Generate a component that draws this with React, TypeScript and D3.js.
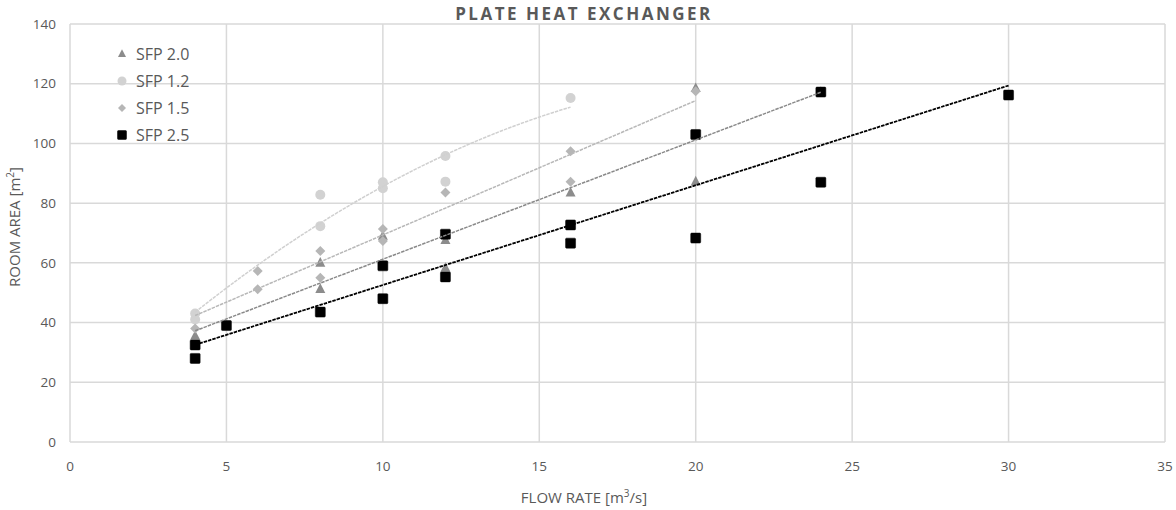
import React from "react";
import * as d3 from "d3";

// ---- data ----
const seriesNames = ["SFP 2.0", "SFP 1.2", "SFP 1.5", "SFP 2.5"];

const sfp20X = [4, 8, 8, 10, 12, 12, 16, 20, 20, 24];
const sfp20Y = [35.5, 60, 51.2, 69, 67.6, 58.3, 83.5, 118.5, 87.2, 117.2];

const sfp12X = [4, 4, 8, 8, 10, 10, 12, 12, 16];
const sfp12Y = [43, 41, 72.3, 82.8, 87, 85, 95.8, 87.2, 115.2];

const sfp15X = [4, 6, 6, 8, 8, 10, 10, 12, 16, 16, 20];
const sfp15Y = [38, 57.3, 51.2, 64, 55, 71.3, 67.3, 83.6, 97.4, 87.2, 117.5];

const sfp25X = [4, 4, 5, 8, 10, 10, 12, 12, 16, 16, 20, 20, 24, 24, 30];
const sfp25Y = [32.5, 28, 39, 43.5, 48, 59, 55.3, 69.6, 72.7, 66.6, 103, 68.3, 117.2, 87, 116.2];

const trendTypes = ["linear", "poly2", "linear", "linear"];

const xTicks = [0, 5, 10, 15, 20, 25, 30, 35];
const yTicks = [0, 20, 40, 60, 80, 100, 120, 140];

const titleText = "PLATE HEAT EXCHANGER";
const xTitle = "FLOW RATE [m";
const yTitle = "ROOM AREA [m";

// ---- styles ----
const W = 1176;
const H = 510;
const margin = { left: 70, right: 11, top: 24, bottom: 68 };
const markerFill = ["#8c8c8c", "#d2d2d2", "#b6b6b6", "#000000"];
const lineColor = ["#8a8a8a", "#d0d0d0", "#b8b8b8", "#000000"];
const shapes = ["triangle", "circle", "diamond", "square"];
const textColor = "#595959";
const font = "'Open Sans', 'DejaVu Sans', sans-serif";

function solve3(A: number[][], b: number[]): number[] {
  const M = A.map((r, i) => [...r, b[i]]);
  for (let i = 0; i < 3; i++) {
    let p = i;
    for (let k = i + 1; k < 3; k++) if (Math.abs(M[k][i]) > Math.abs(M[p][i])) p = k;
    [M[i], M[p]] = [M[p], M[i]];
    for (let k = i + 1; k < 3; k++) {
      const f = M[k][i] / M[i][i];
      for (let j = i; j < 4; j++) M[k][j] -= f * M[i][j];
    }
  }
  const x = [0, 0, 0];
  for (let i = 2; i >= 0; i--) {
    let s = M[i][3];
    for (let j = i + 1; j < 3; j++) s -= M[i][j] * x[j];
    x[i] = s / M[i][i];
  }
  return x;
}

function fit(xs: number[], ys: number[], type: string): (x: number) => number {
  const n = xs.length;
  if (type === "linear") {
    const mx = d3.mean(xs)!;
    const my = d3.mean(ys)!;
    let sxy = 0, sxx = 0;
    for (let i = 0; i < n; i++) {
      sxy += (xs[i] - mx) * (ys[i] - my);
      sxx += (xs[i] - mx) ** 2;
    }
    const b = sxy / sxx;
    const a = my - b * mx;
    return (x) => a + b * x;
  }
  const S = (p: number) => d3.sum(xs, (x) => x ** p);
  const T = (p: number) => d3.sum(xs.map((x, i) => x ** p * ys[i]));
  const A = [
    [n, S(1), S(2)],
    [S(1), S(2), S(3)],
    [S(2), S(3), S(4)],
  ];
  const c = solve3(A, [T(0), T(1), T(2)]);
  return (x) => c[0] + c[1] * x + c[2] * x * x;
}

function Marker({ shape, x, y, fill, s }: { shape: string; x: number; y: number; fill: string; s: number }) {
  if (shape === "square")
    return <rect x={x - s / 2} y={y - s / 2} width={s} height={s} fill={fill} stroke={fill} strokeWidth={0.5} rx={1} />;
  if (shape === "circle") return <circle cx={x} cy={y} r={s / 2} fill={fill} />;
  if (shape === "diamond")
    return <path d={`M${x},${y - s / 2}L${x + s / 2},${y}L${x},${y + s / 2}L${x - s / 2},${y}Z`} fill={fill} />;
  return (
    <path
      d={`M${x},${y - s * 0.58}L${x + s / 2},${y + s * 0.38}L${x - s / 2},${y + s * 0.38}Z`}
      fill={fill}
    />
  );
}

export default function App() {
  const xs = [sfp20X, sfp12X, sfp15X, sfp25X];
  const ys = [sfp20Y, sfp12Y, sfp15Y, sfp25Y];

  const x = d3.scaleLinear().domain([0, 35]).range([margin.left, W - margin.right]);
  const y = d3.scaleLinear().domain([0, 140]).range([H - margin.bottom, margin.top]);

  const trends = xs.map((xArr, i) => {
    const f = fit(xArr, ys[i], trendTypes[i]);
    const [lo, hi] = d3.extent(xArr) as [number, number];
    const pts = d3.range(0, 61).map((k) => lo + ((hi - lo) * k) / 60);
    const line = d3
      .line<number>()
      .x((v) => x(v))
      .y((v) => y(f(v)));
    return line(pts) || "";
  });

  const markerSize = [10, 10, 10, 10];
  const legendSize = [8, 9, 8, 9];

  return (
    <svg width={W} height={H} style={{ position: "absolute", left: 0, top: 0, background: "#fff" }}>
      <rect width={W} height={H} fill="#fff" />
      {/* grid */}
      {yTicks.map((t) => (
        <line key={"gy" + t} x1={x(0)} x2={x(35)} y1={y(t)} y2={y(t)} stroke="#d9d9d9" strokeWidth={1.5} />
      ))}
      {xTicks.map((t) => (
        <line key={"gx" + t} x1={x(t)} x2={x(t)} y1={y(0)} y2={y(140)} stroke="#d9d9d9" strokeWidth={1.5} />
      ))}
      {/* tick labels */}
      {yTicks.map((t) => (
        <text key={"ty" + t} x={56} y={y(t)} dy="0.35em" textAnchor="end" fontFamily={font} fontSize={13.5} fill={textColor}>
          {t}
        </text>
      ))}
      {xTicks.map((t) => (
        <text key={"tx" + t} x={x(t)} y={471} textAnchor="middle" fontFamily={font} fontSize={13.5} fill={textColor}>
          {t}
        </text>
      ))}
      {/* markers */}
      {xs.map((xArr, i) => (
        <g key={"s" + i}>
          {xArr.map((v, j) => (
            <Marker key={j} shape={shapes[i]} x={x(v)} y={y(ys[i][j])} fill={markerFill[i]} s={markerSize[i]} />
          ))}
        </g>
      ))}
      {/* trendlines */}
      {trends.map((d, i) => (
        <path
          key={"t" + i}
          d={d}
          fill="none"
          stroke={lineColor[i]}
          strokeWidth={i === 3 ? 1.8 : 1.5}
          strokeDasharray="3.5 1"
        />
      ))}
      {/* legend */}
      {seriesNames.map((n, i) => (
        <g key={"l" + i}>
          <Marker shape={shapes[i]} x={122} y={54 + i * 27} fill={markerFill[i]} s={legendSize[i]} />
          <text x={136} y={54 + i * 27} dy="0.36em" fontFamily={font} fontSize={16} fill={textColor}>
            {n}
          </text>
        </g>
      ))}
      {/* titles */}
      <text x={584} y={20} textAnchor="middle" fontFamily={font} fontWeight="bold" fontSize={17} letterSpacing={2.5} fill={textColor}>
        {titleText}
      </text>
      <text x={584} y={503} textAnchor="middle" fontFamily={font} fontSize={15} fill={textColor}>
        {xTitle}
        <tspan dy={-6} fontSize={10}>3</tspan>
        <tspan dy={6}>/s]</tspan>
      </text>
      <text
        transform={`translate(20,${y(72)}) rotate(-90)`}
        textAnchor="middle"
        fontFamily={font}
        fontSize={15}
        fill={textColor}
      >
        {yTitle}
        <tspan dy={-6} fontSize={10}>2</tspan>
        <tspan dy={6}>]</tspan>
      </text>
    </svg>
  );
}
